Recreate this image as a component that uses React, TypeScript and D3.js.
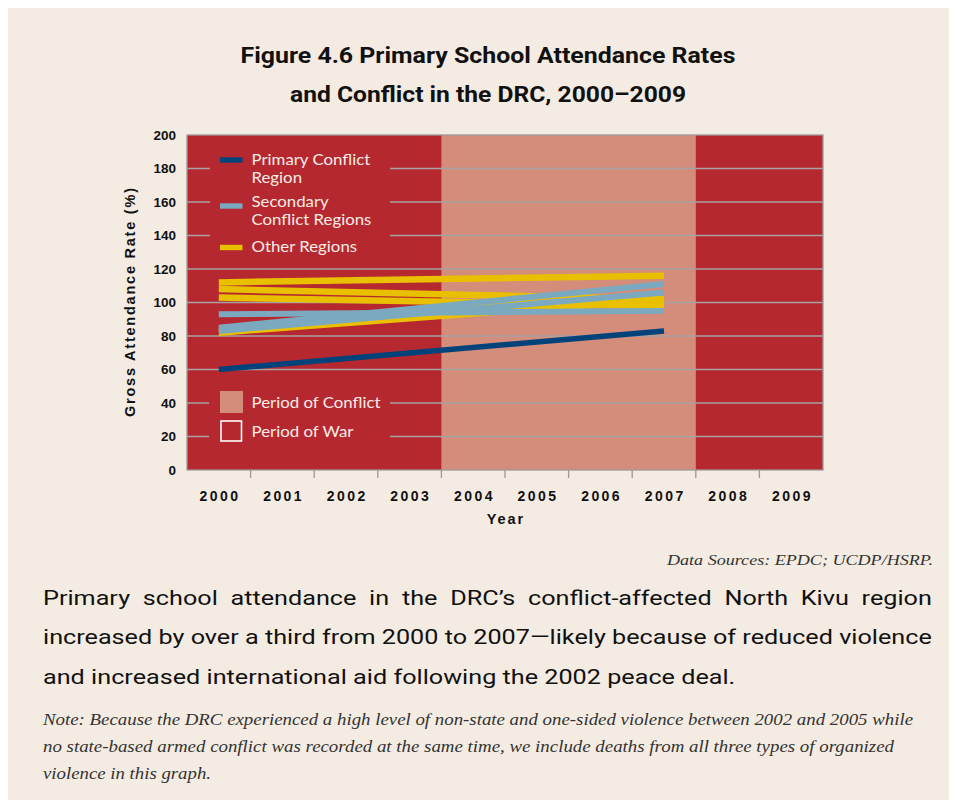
import { useEffect, useRef } from "react";
import * as d3 from "d3";

// category axis
const yearLabels = ["2000", "2001", "2002", "2003", "2004", "2005", "2006", "2007", "2008", "2009"];
const yTicks = [0, 20, 40, 60, 80, 100, 120, 140, 160, 180, 200];

// conflict period (shaded band)
const conflictStart = "2004";
const conflictEnd = "2007";

// series: values at 2000 and 2007
const lineYears = ["2000", "2007"];
const primaryRegion = [60, 83];
const secondaryRegions = [
  [93, 95],
  [85, 111],
  [83, 106],
];
const otherRegions = [
  [112, 116],
  [108, 102],
  [103, 98],
  [82, 102],
];

const paragraph = [
  "Primary school attendance in the DRC\u2019s conflict-affected North Kivu region",
  "increased by over a third from 2000 to 2007\u2014likely because of reduced violence",
  "and increased international aid following the 2002 peace deal.",
];
const noteLines = [
  "Note: Because the DRC experienced a high level of non-state and one-sided violence between 2002 and 2005 while",
  "no state-based armed conflict was recorded at the same time, we include deaths from all three types of organized",
  "violence in this graph.",
];

const PANEL = "#F4EBE2";
const RED = "#B6282F";
const CONFLICT = "#D48D7A";
const GRID = "#A9A2A2";
const NAVY = "#00427A";
const BLUE = "#7BAAC0";
const YELLOW = "#E8C000";
const LEGEND_TEXT = "#F7ECE6";

type Sel = d3.Selection<SVGTextElement, unknown, null, undefined>;

function fit(sel: Sel, target: number, mode: "glyphs" | "spacing") {
  const node = sel.node();
  if (!node) return;
  const w = node.getComputedTextLength();
  if (Math.abs(w - target) > 0.5) {
    sel
      .attr("textLength", target)
      .attr("lengthAdjust", mode === "spacing" ? "spacing" : "spacingAndGlyphs");
  }
}

export default function App() {
  const svgRef = useRef<SVGSVGElement>(null);

  useEffect(() => {
    const draw = () => {
      if (!svgRef.current) return;
      const svg = d3.select(svgRef.current);
      svg.selectAll("*").remove();

      // work in page coordinates (body margin is 8px)
      const root = svg.append("g").attr("transform", "translate(-8,-8)");
      root.append("rect").attr("x", 8).attr("y", 8).attr("width", 949).attr("height", 792).attr("fill", PANEL);

      const left = 187;
      const right = 823;
      const top = 135;
      const bottom = 470;

      const x = d3.scaleBand<string>().domain(yearLabels).range([left, right]).padding(0);
      const xc = (d: string) => (x(d) ?? 0) + x.bandwidth() / 2;
      const y = d3.scaleLinear().domain([0, 200]).range([bottom, top]);

      // title
      const titleFont = "Roboto, 'Open Sans', sans-serif";
      const t1 = root
        .append("text")
        .attr("x", 488)
        .attr("y", 62.5)
        .attr("text-anchor", "middle")
        .attr("font-family", titleFont)
        .attr("font-weight", "bold")
        .attr("font-size", 22.5)
        .attr("fill", "#111")
        .text("Figure 4.6 Primary School Attendance Rates");
      fit(t1, 495, "glyphs");
      const t2 = root
        .append("text")
        .attr("x", 488)
        .attr("y", 102)
        .attr("text-anchor", "middle")
        .attr("font-family", titleFont)
        .attr("font-weight", "bold")
        .attr("font-size", 22.5)
        .attr("fill", "#111")
        .text("and Conflict in the DRC, 2000\u20132009");
      fit(t2, 396, "glyphs");

      // plot background and conflict band
      root.append("rect").attr("x", left).attr("y", top).attr("width", right - left).attr("height", bottom - top).attr("fill", RED);
      root
        .append("rect")
        .attr("x", x(conflictStart) ?? 0)
        .attr("y", top)
        .attr("width", (x(conflictEnd) ?? 0) + x.bandwidth() - (x(conflictStart) ?? 0))
        .attr("height", bottom - top)
        .attr("fill", CONFLICT);

      // gridlines
      root
        .append("g")
        .selectAll("line")
        .data(yTicks.filter((d) => d > 0 && d < 200))
        .join("line")
        .attr("x1", left)
        .attr("x2", right)
        .attr("y1", (d) => y(d))
        .attr("y2", (d) => y(d))
        .attr("stroke", GRID)
        .attr("stroke-width", 1.3);

      // legend backing boxes (break the gridlines)
      root.append("rect").attr("x", 210).attr("y", 146).attr("width", 180).attr("height", 114).attr("fill", RED);
      root.append("rect").attr("x", 209).attr("y", 386).attr("width", 181).attr("height", 60).attr("fill", RED);

      // plot border
      root
        .append("rect")
        .attr("x", left)
        .attr("y", top)
        .attr("width", right - left)
        .attr("height", bottom - top)
        .attr("fill", "none")
        .attr("stroke", "#9E9898")
        .attr("stroke-width", 1.3);

      // x ticks between categories
      root
        .append("g")
        .selectAll("line")
        .data(yearLabels.slice(1))
        .join("line")
        .attr("x1", (d) => x(d) ?? 0)
        .attr("x2", (d) => x(d) ?? 0)
        .attr("y1", bottom)
        .attr("y2", bottom + 8)
        .attr("stroke", "#9E9898")
        .attr("stroke-width", 1.3);

      // series lines
      const line = d3
        .line<number>()
        .x((_, i) => xc(lineYears[i]))
        .y((d) => y(d));

      const series = [
        ...otherRegions.map((v) => ({ v, color: YELLOW, w: 6.5 })),
        ...secondaryRegions.map((v) => ({ v, color: BLUE, w: 6 })),
        { v: primaryRegion, color: NAVY, w: 5.5 },
      ];
      root
        .append("g")
        .selectAll("path")
        .data(series)
        .join("path")
        .attr("d", (d) => line(d.v))
        .attr("fill", "none")
        .attr("stroke", (d) => d.color)
        .attr("stroke-width", (d) => d.w)
        .attr("stroke-linecap", "butt");

      // axis labels
      const axisFont = "'Liberation Sans', Arial, sans-serif";
      root
        .append("g")
        .selectAll("text")
        .data(yTicks)
        .join("text")
        .attr("x", 176)
        .attr("y", (d) => y(d) + 4.8)
        .attr("text-anchor", "end")
        .attr("font-family", axisFont)
        .attr("font-weight", "bold")
        .attr("font-size", 13.5)
        .attr("fill", "#111")
        .text((d) => d);

      root
        .append("g")
        .selectAll("text")
        .data(yearLabels)
        .join("text")
        .attr("x", (d) => xc(d))
        .attr("y", 500.5)
        .attr("text-anchor", "middle")
        .attr("font-family", axisFont)
        .attr("font-weight", "bold")
        .attr("font-size", 14)
        .attr("fill", "#111")
        .attr("textLength", 38.5)
        .attr("lengthAdjust", "spacing")
        .text((d) => d);

      const xt = root
        .append("text")
        .attr("x", 505)
        .attr("y", 523.5)
        .attr("text-anchor", "middle")
        .attr("font-family", axisFont)
        .attr("font-weight", "bold")
        .attr("font-size", 14.5)
        .attr("fill", "#111")
        .text("Year");
      fit(xt, 36.5, "spacing");

      const yt = root
        .append("text")
        .attr("transform", "translate(135,302.5) rotate(-90)")
        .attr("text-anchor", "middle")
        .attr("font-family", axisFont)
        .attr("font-weight", "bold")
        .attr("font-size", 14.5)
        .attr("fill", "#111")
        .text("Gross Attendance Rate (%)");
      fit(yt, 229, "spacing");

      // legend
      const legFont = "Lato, 'Noto Sans', sans-serif";
      const legSize = 15;
      const legGap = 18.2;
      const legendLines = [
        { color: NAVY, sy: 160, lines: ["Primary Conflict", "Region"], by: 165 },
        { color: BLUE, sy: 206, lines: ["Secondary", "Conflict Regions"], by: 207 },
        { color: YELLOW, sy: 247.5, lines: ["Other Regions"], by: 251.5 },
      ];
      legendLines.forEach((item) => {
        root
          .append("rect")
          .attr("x", 220)
          .attr("y", item.sy - 2.7)
          .attr("width", 22.5)
          .attr("height", 5.4)
          .attr("fill", item.color);
        item.lines.forEach((txt, i) => {
          const t = root
            .append("text")
            .attr("x", 251.5)
            .attr("y", item.by + i * legGap)
            .attr("font-family", legFont)
            .attr("font-size", legSize)
            .attr("fill", LEGEND_TEXT)
            .text(txt);
          // widen toward the reference's broader humanist face
          const w = (t.node() as SVGTextElement).getComputedTextLength();
          t.attr("textLength", w * 1.12).attr("lengthAdjust", "spacingAndGlyphs");
        });
      });

      root.append("rect").attr("x", 220).attr("y", 391).attr("width", 23).attr("height", 22).attr("fill", CONFLICT);
      const pc = root
        .append("text")
        .attr("x", 251.5)
        .attr("y", 408)
        .attr("font-family", legFont)
        .attr("font-size", legSize)
        .attr("fill", LEGEND_TEXT)
        .text("Period of Conflict");
      fit(pc, 129, "glyphs");
      root
        .append("rect")
        .attr("x", 221)
        .attr("y", 421)
        .attr("width", 20.5)
        .attr("height", 20)
        .attr("fill", RED)
        .attr("stroke", "#FFFFFF")
        .attr("stroke-width", 1.6);
      const pw = root
        .append("text")
        .attr("x", 251.5)
        .attr("y", 437)
        .attr("font-family", legFont)
        .attr("font-size", legSize)
        .attr("fill", LEGEND_TEXT)
        .text("Period of War");
      fit(pw, 102, "glyphs");

      // sources
      const serif = "'Liberation Serif', 'DejaVu Serif', serif";
      const src = root
        .append("text")
        .attr("x", 933)
        .attr("y", 564.5)
        .attr("text-anchor", "end")
        .attr("font-family", serif)
        .attr("font-style", "italic")
        .attr("font-size", 15.5)
        .attr("fill", "#333")
        .text("Data Sources: EPDC; UCDP/HSRP.");
      fit(src, 266, "glyphs");

      // paragraph: scale horizontally so the tight second line fills the column,
      // then justify the first line with word spacing
      const colWidth = 889;
      const paraEls = paragraph.map((txt) =>
        root
          .append("text")
          .attr("x", 0)
          .attr("y", 0)
          .attr("font-family", titleFont)
          .attr("font-size", 20.5)
          .attr("fill", "#111")
          .text(txt)
      );
      const widths = paraEls.map((s) => (s.node() as SVGTextElement).getComputedTextLength());
      const sx = colWidth / widths[1];
      paraEls.forEach((s, i) => {
        s.attr("transform", `translate(43,${605 + i * 39.3}) scale(${sx},1)`);
        if (i === 0) {
          const gaps = paragraph[0].split(" ").length - 1;
          const extra = colWidth / sx - widths[0];
          if (extra > 0) s.attr("word-spacing", extra / gaps);
        }
      });

      // note
      const noteTargets = [870, 851, 168];
      noteLines.forEach((txt, i) => {
        const t = root
          .append("text")
          .attr("x", 43)
          .attr("y", 725 + i * 27.2)
          .attr("font-family", serif)
          .attr("font-style", "italic")
          .attr("font-size", 16)
          .attr("fill", "#333")
          .text(txt);
        fit(t, noteTargets[i], "glyphs");
      });
    };

    if (document.fonts && document.fonts.ready) {
      document.fonts.ready.then(draw);
    } else {
      draw();
    }
  }, []);

  return <svg ref={svgRef} width={949} height={792} style={{ display: "block" }} />;
}
